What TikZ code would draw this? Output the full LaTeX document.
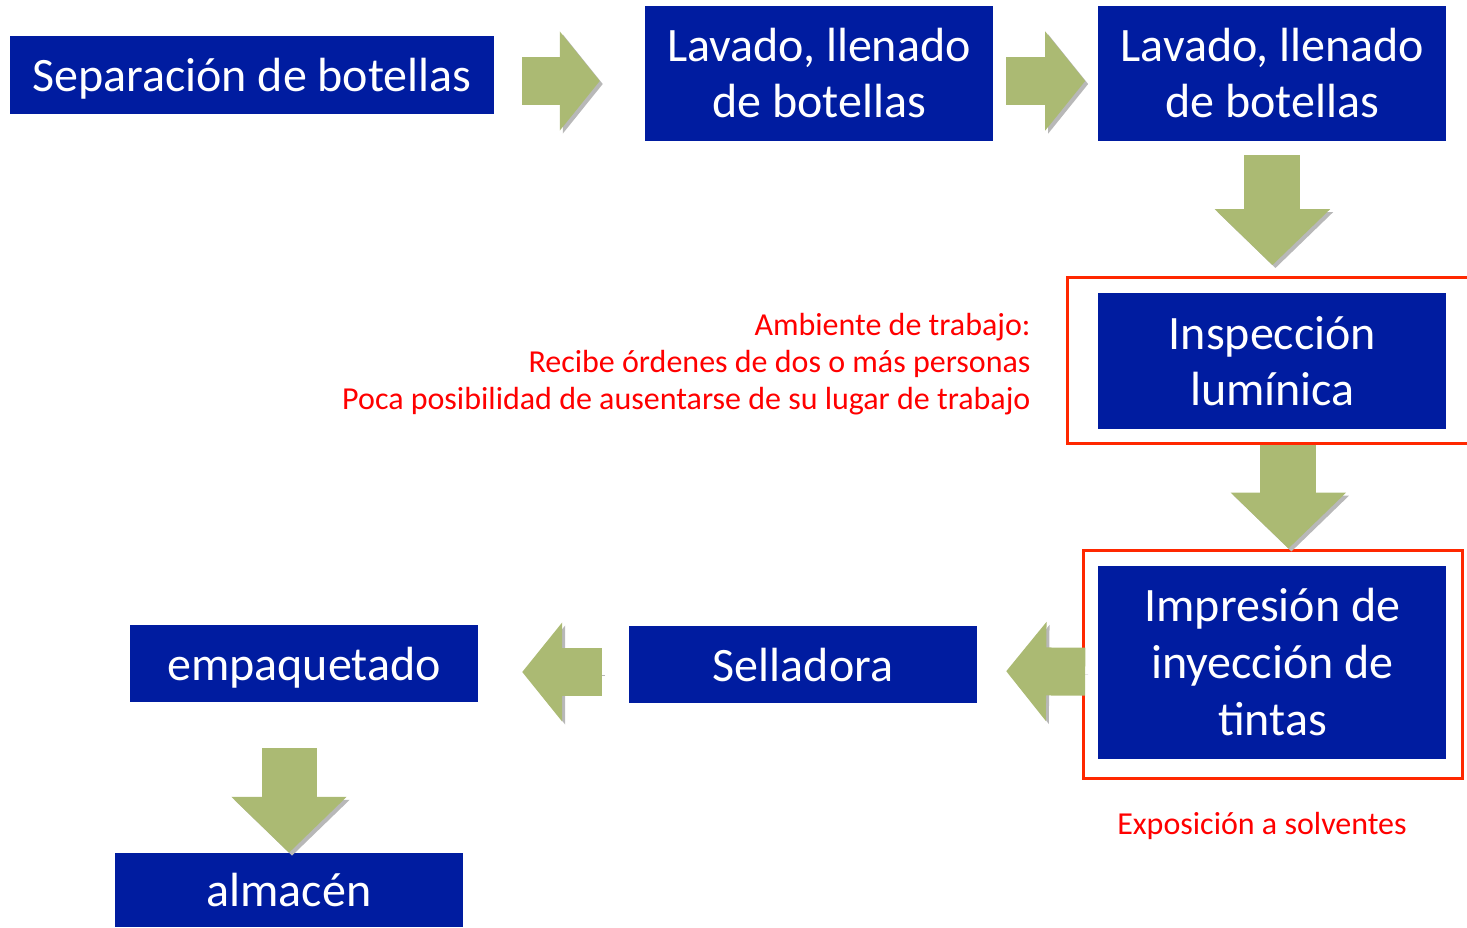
\documentclass[tikz,border=0pt]{standalone}
\usepackage{fontspec}
\setmainfont{Carlito}
\usetikzlibrary{arrows.meta,positioning}
\definecolor{boxblue}{RGB}{0,28,160}
\definecolor{arrowgreen}{RGB}{171,186,115}
\definecolor{framered}{RGB}{255,40,0}

\begin{document}
\begin{tikzpicture}[x=1pt, y=-1pt,
        flow/.style={draw=arrowgreen, line width=48pt, -{Triangle[length=40pt,width=97pt]},
          preaction={draw=black!28, transform canvas={xshift=3pt,yshift=-3pt}}},
        flowdown/.style={flow, line width=56pt, -{Triangle[length=56pt,width=112pt]}}]
      \tikzstyle{box} = [fill=boxblue, text=white, font=\fontsize{48}{56}\selectfont,
        align=center, inner sep=0pt, minimum width=348pt, minimum height=135pt]
      \tikzstyle{oneline} = [box, text depth=0pt, minimum height=77pt]
      \tikzstyle{note} = [text=red, font=\fontsize{32}{37}\selectfont]
      \tikzstyle{redframe} = [draw=framered, line width=3pt]
      \useasboundingbox (0,0) rectangle (1467,927);
      \clip (0,0) rectangle (1467,927);
      % process steps
      \node (sep) [oneline, minimum width=484pt, minimum height=78pt] at (252,75) {Separación de botellas};
      \node (lav1) [box] at (819,73.5) {Lavado, llenado\\de botellas};
      \node (lav2) [box, right=105pt of lav1] {Lavado, llenado\\de botellas};
      \node (insp) [box, below=152pt of lav2, minimum height=136pt] {Inspección\\lumínica};
      \node (imp) [box, below=136pt of insp, minimum height=193pt, font=\fontsize{48}{57}\selectfont]
        {Impresión de\\inyección de\\tintas};
      \node (sell) [oneline] at (803,664.5) {Selladora};
      \node (emp) [oneline] at (304,663.5) {empaquetado};
      \node (alm) [oneline, minimum height=74pt] at (289,890) {almacén};
      % risks
      \draw[redframe] ([xshift=-31pt,yshift=16pt]insp.north west) rectangle ([xshift=40pt,yshift=-14pt]insp.south east);
      \draw[redframe] ([xshift=-15pt,yshift=15pt]imp.north west) rectangle ([xshift=16pt,yshift=-19pt]imp.south east);
      \node (amb) [note, anchor=east, align=right] at (1034,364)
        {Ambiente de trabajo:\\Recibe órdenes de dos o más personas\\Poca posibilidad de ausentarse de su lugar de trabajo};
      \node (expo) [note] at (1262,826) {Exposición a solventes};
      % block arrows
      \draw[flow, shorten <=28pt, shorten >=45pt] ([yshift=-6pt]sep.east) -- ([yshift=-7.5pt]lav1.west);
      \draw[flow, shorten <=13pt, shorten >=13pt] ([yshift=-7.5pt]lav1.east) -- ([yshift=-7.5pt]lav2.west);
      \draw[flowdown, shorten <=14pt, shorten >=28pt] (lav2.south) -- (insp.north);
      \draw[flowdown, shorten <=15pt, shorten >=17pt] ([xshift=16pt]insp.south) -- ([xshift=16pt]imp.north);
      \draw[flow, shorten <=13pt, shorten >=29pt] ([yshift=-9.5pt]imp.west) -- ([yshift=-6.5pt]sell.east);
      \draw[flow, shorten <=27pt, shorten >=44pt] ([yshift=-7.5pt]sell.west) -- ([yshift=-8.5pt]emp.east);
      \draw[flowdown, line width=55pt, shorten <=46pt] ([xshift=-15pt]emp.south) -- (alm.north);
    \end{tikzpicture}
\end{document}
